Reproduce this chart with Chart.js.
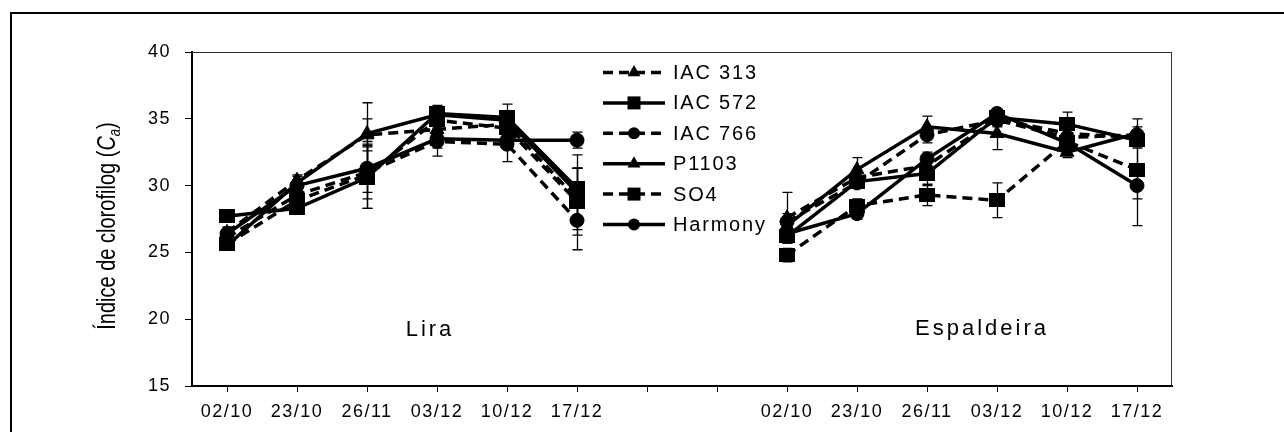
<!DOCTYPE html>
<html>
<head>
<meta charset="utf-8">
<script src="https://cdn.jsdelivr.net/npm/chart.js@4.4.1/dist/chart.umd.min.js"></script>
<style>
  html, body { margin: 0; padding: 0; background: #fff; }
  #wrap { width: 1284px; height: 432px; }
</style>
</head>
<body>
<div id="wrap"><canvas id="chart" width="1284" height="432"></canvas></div>
<script>
// datas de coleta (mesmas nos dois sistemas)
const datas = ['02/10', '23/10', '26/11', '03/12', '10/12', '17/12'];
const categorias = [...datas, '', '', ...datas];
const yTicks = [15, 20, 25, 30, 35, 40];
const cultivares = ['IAC 313', 'IAC 572', 'IAC 766', 'P1103', 'SO4', 'Harmony'];

// Lira - media
const liraIAC313  = [26.5, 30.4, 33.8, 34.2, 34.6, 29.0];
const liraIAC572  = [27.7, 28.3, 30.6, 35.4, 35.1, 29.8];
const liraIAC766  = [26.1, 29.3, 31.0, 33.3, 33.1, 27.4];
const liraP1103   = [25.5, 30.2, 33.9, 35.3, 34.9, 29.5];
const liraSO4     = [25.6, 28.9, 30.8, 34.9, 34.3, 28.8];
const liraHarmony = [26.4, 30.0, 31.3, 33.5, 33.4, 33.4];

// Lira - erro padrao
const liraErrIAC313  = [0.4, 0.4, 1.2, 0.8, 0.6, 2.3];
const liraErrIAC572  = [0.3, 0.3, 2.3, 0.6, 1.0, 2.5];
const liraErrIAC766  = [0.4, 0.4, 2.0, 1.1, 1.3, 2.2];
const liraErrP1103   = [0.3, 0.5, 2.3, 0.5, 0.7, 1.8];
const liraErrSO4     = [0.4, 0.3, 2.5, 0.7, 0.8, 2.5];
const liraErrHarmony = [0.4, 0.3, 1.8, 0.7, 0.6, 0.6];

// Espaldeira - media
const espIAC313  = [27.6, 30.6, 31.5, 35.0, 33.9, 33.6];
const espIAC572  = [26.2, 30.3, 30.9, 35.1, 34.6, 33.4];
const espIAC766  = [27.3, 30.2, 33.8, 34.9, 33.6, 33.8];
const espP1103   = [27.0, 31.2, 34.4, 33.9, 32.5, 33.9];
const espSO4     = [24.8, 28.5, 29.3, 28.9, 33.3, 31.2];
const espHarmony = [26.4, 27.9, 32.0, 35.4, 33.2, 30.0];

// Espaldeira - erro padrao
const espErrIAC313  = [1.9, 0.5, 0.6, 0.5, 0.5, 0.5];
const espErrIAC572  = [0.5, 0.5, 0.9, 0.4, 0.9, 0.5];
const espErrIAC766  = [0.6, 0.4, 0.6, 0.5, 0.4, 0.6];
const espErrP1103   = [0.5, 0.9, 0.8, 1.2, 0.4, 1.1];
const espErrSO4     = [0.5, 0.5, 0.8, 1.3, 0.5, 2.2];
const espErrHarmony = [0.6, 0.4, 0.5, 0.3, 0.5, 3.0];

const medias = [
  [liraIAC313, espIAC313], [liraIAC572, espIAC572], [liraIAC766, espIAC766],
  [liraP1103, espP1103], [liraSO4, espSO4], [liraHarmony, espHarmony]
];
const erros = [
  [liraErrIAC313, espErrIAC313], [liraErrIAC572, espErrIAC572], [liraErrIAC766, espErrIAC766],
  [liraErrP1103, espErrP1103], [liraErrSO4, espErrSO4], [liraErrHarmony, espErrHarmony]
];

// quadrado um pouco achatado, como no original
const quadrado = document.createElement('canvas');
quadrado.width = 16;
quadrado.height = 14;
const qctx = quadrado.getContext('2d');
qctx.fillStyle = '#000';
qctx.fillRect(0, 0, 16, 14);

// estilo de cada cultivar
const estilos = [
  { dash: [10, 6], point: 'triangle', r: 8 },
  { dash: [],      point: quadrado,   r: 8 },
  { dash: [10, 6], point: 'circle',   r: 7 },
  { dash: [],      point: 'triangle', r: 8 },
  { dash: [10, 6], point: quadrado,   r: 8 },
  { dash: [],      point: 'circle',   r: 7 }
];
const legendaPontos = ['triangle', 'rect', 'circle', 'triangle', 'rect', 'circle'];

const datasets = cultivares.map((nome, i) => ({
  label: nome,
  data: [...medias[i][0], null, null, ...medias[i][1]],
  errors: [...erros[i][0], null, null, ...erros[i][1]],
  legendPoint: legendaPontos[i],
  borderColor: '#000',
  backgroundColor: '#000',
  borderWidth: 3.5,
  borderDash: estilos[i].dash,
  pointStyle: estilos[i].point,
  pointRadius: estilos[i].r,
  pointHoverRadius: estilos[i].r,
  pointBackgroundColor: '#000',
  pointBorderColor: '#000',
  pointBorderWidth: 1,
  tension: 0,
  spanGaps: false
}));

function marcador(ctx, tipo, x, y, r) {
  ctx.beginPath();
  if (tipo === 'circle') {
    ctx.arc(x, y, r, 0, Math.PI * 2);
  } else if (tipo === 'rect') {
    ctx.rect(x - r, y - r, 2 * r, 2 * r);
  } else {
    ctx.moveTo(x, y - r);
    ctx.lineTo(x + r * 0.866, y + r * 0.5);
    ctx.lineTo(x - r * 0.866, y + r * 0.5);
    ctx.closePath();
  }
  ctx.fill();
}

const espacamento = {
  id: 'espacamento',
  beforeUpdate(chart) { chart.ctx.letterSpacing = '1.5px'; },
  beforeDraw(chart) { chart.ctx.letterSpacing = '1.5px'; }
};

const barrasErro = {
  id: 'barrasErro',
  beforeDatasetsDraw(chart) {
    const { ctx, scales: { x, y } } = chart;
    ctx.save();
    ctx.strokeStyle = '#000';
    ctx.lineWidth = 1.3;
    chart.data.datasets.forEach(ds => {
      ds.data.forEach((v, i) => {
        const e = ds.errors[i];
        if (v == null || e == null) return;
        const px = Math.round(x.getPixelForValue(i)) + 0.5;
        const top = y.getPixelForValue(v + e);
        const bot = y.getPixelForValue(v - e);
        ctx.beginPath();
        ctx.moveTo(px, top); ctx.lineTo(px, bot);
        ctx.moveTo(px - 5, top); ctx.lineTo(px + 5, top);
        ctx.moveTo(px - 5, bot); ctx.lineTo(px + 5, bot);
        ctx.stroke();
      });
    });
    ctx.restore();
  }
};

const extras = {
  id: 'extras',
  afterDraw(chart) {
    const { ctx, chartArea: a } = chart;
    ctx.save();
    ctx.letterSpacing = '0px';

    // moldura externa
    ctx.fillStyle = '#000';
    ctx.fillRect(10, 12, 1274, 2);
    ctx.fillRect(10, 12, 2, 420);

    // topo e lado direito da area do grafico
    ctx.strokeStyle = '#333';
    ctx.lineWidth = 1;
    ctx.beginPath();
    ctx.moveTo(a.left, a.top + 0.5); ctx.lineTo(a.right, a.top + 0.5);
    ctx.moveTo(a.right - 0.5, a.top); ctx.lineTo(a.right - 0.5, a.bottom);
    ctx.stroke();

    // titulo do eixo y (fonte estreita)
    ctx.save();
    ctx.translate(115, 226);
    ctx.rotate(-Math.PI / 2);
    ctx.scale(0.77, 1);
    const fam = '"Liberation Sans"';
    const partes = [
      ['Índice de clorofilog (', '26px ' + fam, 0],
      ['C', 'italic 26px ' + fam, 0],
      ['a', 'italic 17px ' + fam, 5],
      [')', '26px ' + fam, 0]
    ];
    let total = 0;
    partes.forEach(p => { ctx.font = p[1]; total += ctx.measureText(p[0]).width; });
    let cx = -total / 2;
    ctx.textBaseline = 'alphabetic';
    ctx.textAlign = 'left';
    ctx.fillStyle = '#000';
    partes.forEach(p => {
      ctx.font = p[1];
      ctx.fillText(p[0], cx, p[2]);
      cx += ctx.measureText(p[0]).width;
    });
    ctx.restore();

    // rotulos dos sistemas
    ctx.letterSpacing = '3px';
    ctx.font = '22px "Liberation Sans"';
    ctx.textAlign = 'center';
    ctx.textBaseline = 'middle';
    ctx.fillText('Lira', 430, 330);
    ctx.fillText('Espaldeira', 982, 329);

    // legenda
    ctx.letterSpacing = '1.8px';
    ctx.font = '20px "Liberation Sans"';
    ctx.textAlign = 'left';
    chart.data.datasets.forEach((ds, i) => {
      const yy = 72.5 + i * 30.4;
      ctx.strokeStyle = '#000';
      ctx.lineWidth = 3.5;
      ctx.setLineDash(ds.borderDash);
      ctx.beginPath();
      ctx.moveTo(603, yy); ctx.lineTo(665, yy);
      ctx.stroke();
      ctx.setLineDash([]);
      const t = ds.legendPoint;
      marcador(ctx, t, 634, yy, t === 'rect' ? 6.5 : (t === 'circle' ? 6 : 7.5));
      ctx.fillText(ds.label, 673, yy + 1);
    });
    ctx.restore();
  }
};

Chart.defaults.font.family = '"Liberation Sans", Arial, sans-serif';
Chart.defaults.color = '#000';

new Chart(document.getElementById('chart').getContext('2d'), {
  type: 'line',
  data: { labels: categorias, datasets: datasets },
  options: {
    responsive: false,
    animation: false,
    layout: { padding: { top: 52, right: 112, left: 0, bottom: 0 } },
    plugins: { legend: { display: false }, tooltip: { enabled: false } },
    scales: {
      x: {
        type: 'category',
        offset: true,
        grid: { drawOnChartArea: false, drawTicks: true, tickLength: 6, color: '#000', offset: false },
        border: { display: true, color: '#000', width: 2 },
        ticks: { font: { size: 18 }, color: '#000', padding: 9, maxRotation: 0, autoSkip: false },
        afterFit(scale) { scale.height = 46; }
      },
      y: {
        min: 15,
        max: 40,
        grid: { drawOnChartArea: false, drawTicks: true, tickLength: 7, color: '#000' },
        border: { display: true, color: '#000', width: 2 },
        ticks: { font: { size: 18 }, color: '#000', padding: 14 },
        afterBuildTicks(scale) { scale.ticks = yTicks.map(v => ({ value: v })); },
        afterFit(scale) { scale.width = 192; }
      }
    }
  },
  plugins: [espacamento, barrasErro, extras]
});
</script>
</body>
</html>
